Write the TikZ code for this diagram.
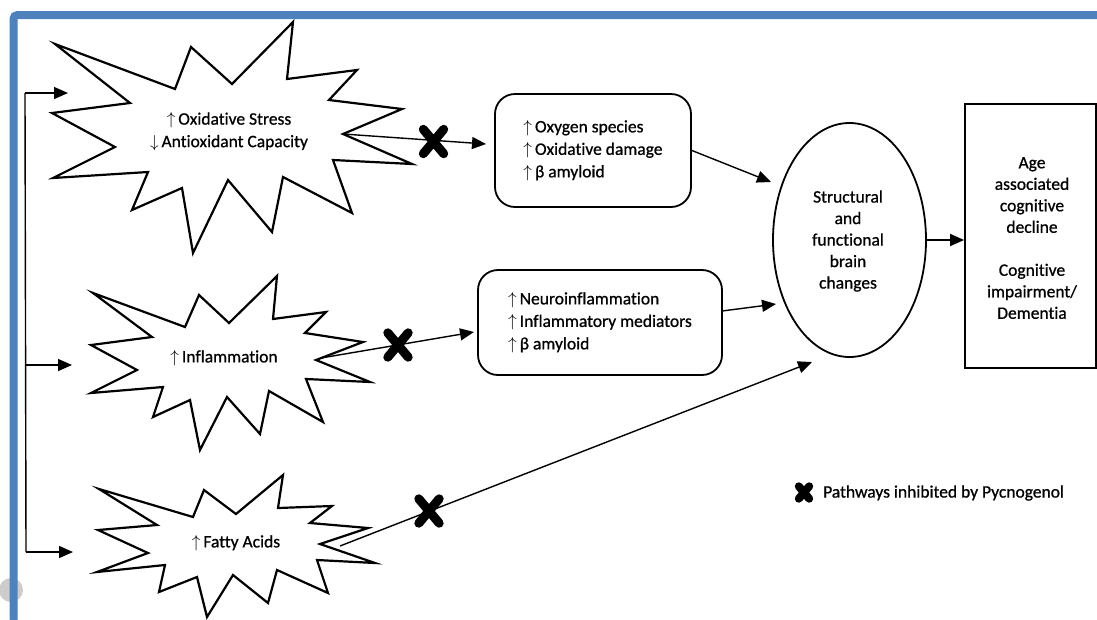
\documentclass[tikz,border=0pt]{standalone}
\usepackage{fontspec}
\setmainfont{Carlito}[Ligatures=NoCommon, RawFeature={embolden=0.8}]
\usetikzlibrary{arrows.meta,shapes.geometric}
\definecolor{frameblue}{HTML}{4F81BD}
\begin{document}
\begin{tikzpicture}[x=1pt,y=-1pt,
  burst/.style={draw, line width=2.2pt, line join=miter, fill=white},
  box/.style={draw, line width=1.8pt, rounded corners=20pt, align=left, inner sep=0pt, font=\fontsize{17.5}{22.5}\selectfont},
  conn/.style={line width=1.4pt, -{Triangle[length=14pt,width=12pt]}},
  plain/.style={line width=1.4pt},
  txt/.style={font=\fontsize{17.5}{22.5}\selectfont, align=center, inner sep=0pt},
  etxt/.style={font=\fontsize{17.5}{21.5}\selectfont, align=center, inner sep=0pt},
  xnode/.style={minimum width=20pt, minimum height=24pt, inner sep=0pt},
  xsmall/.style={minimum width=10pt, minimum height=12pt, inner sep=0pt},
  xstroke/.style={line width=9pt, line cap=round},
  xstrokesmall/.style={line width=8pt, line cap=round}]
\useasboundingbox (0,0) rectangle (1097,619);
\fill[white] (0,0) rectangle (1097,619);
% frame
\fill[gray!40] (11,590) circle (12);
\draw[frameblue, line width=8pt, rounded corners=4pt] (13.5,630) -- (13.5,15) -- (1105,15);
% bursts
\draw[burst] (55,44) -- (175,89) -- (191,47) -- (232,84) -- (293,22) -- (287,79) -- (357,70) -- (329,100) -- (402,109) -- (343,134) -- (412,164) -- (333,160) -- (352,213) -- (283,177) -- (272,232) -- (228,180) -- (193,253) -- (182,188) -- (132,210) -- (148,172) -- (53,178) -- (115,147) -- (52,113) -- (130,103) -- cycle;
\draw[burst] (93,293) -- (185,327) -- (199,295) -- (229,323) -- (277,276) -- (273,319) -- (326,312) -- (305,333) -- (363,342) -- (316,360) -- (370,382) -- (306,379) -- (323,422) -- (269,391) -- (260,434) -- (227,397) -- (200,450) -- (190,400) -- (153,417) -- (163,387) -- (91,393) -- (137,370) -- (91,345) -- (152,337) -- cycle;
\draw[burst] (99,489) -- (193,517) -- (204,490) -- (236,514) -- (283,475) -- (278,508) -- (332,506) -- (310,523) -- (368,528) -- (320,544) -- (375,563) -- (317,560) -- (328,593) -- (277,570) -- (268,603) -- (233,575) -- (207,617) -- (197,577) -- (159,592) -- (165,565) -- (97,572) -- (148,553) -- (98,530) -- (157,525) -- cycle;
\node[txt] (b1) at (229,131.5) {$\uparrow$\,Oxidative Stress\\$\downarrow$\,Antioxidant Capacity};
\node[txt] (b2) at (224,358) {$\uparrow$\,Inflammation};
\node[txt] (b3) at (236,543) {$\uparrow$\,Fatty Acids};
% boxes
\node[box, minimum width=196pt, minimum height=113pt] (box1) at (593,150.5) {$\uparrow$\,Oxygen species\\$\uparrow$\,Oxidative damage\\$\uparrow$\,β amyloid};
\node[box, minimum width=244pt, minimum height=105pt] (box2) at (600,322.5) {$\uparrow$\,Neuroinflammation\\$\uparrow$\,Inflammatory mediators\\$\uparrow$\,β amyloid};
\node[draw, ellipse, line width=1.8pt, minimum width=153pt, minimum height=234pt, inner sep=0pt] (ell) at (849.5,240) {};
\node[etxt] (elltext) at (848,241) {Structural\\and\\functional\\brain\\changes};
\node[draw, line width=1.8pt, minimum width=131pt, minimum height=264pt, inner sep=0pt] (rect) at (1030.5,236) {};
\node[etxt] (recttext) at (1032,238) {Age\\associated\\cognitive\\decline\\[21.5pt]Cognitive\\impairment/\\Dementia};
% left tree
\coordinate (tTop) at (25,93);
\coordinate (tMid) at (25.5,365);
\coordinate (tBot) at (26,552);
\coordinate (a1) at (68,93);
\coordinate (a2) at (72,365);
\coordinate (a3) at (73,552);
\draw[plain] (tTop) -- (tBot);
\draw[conn] (tTop) -- (a1);
\draw[conn] (tMid) -- (a2);
\draw[conn] (tBot) -- (a3);
% connectors
\coordinate (b1out) at (343,134);
\coordinate (b2out) at (321,358);
\coordinate (b3out) at (340,546);
\coordinate (t1) at (486,144);
\coordinate (t2) at (474,332);
\coordinate (t3) at (812,362);
\coordinate (t4) at (771,182);
\coordinate (t5) at (776,304);
\coordinate (box2out) at (722,311);
\draw[conn] (b1out) -- (t1);
\draw[conn] (b2out) -- (t2);
\draw[conn] (b3out) -- (t3);
\draw[conn] (box1.east) -- (t4);
\draw[conn] (box2out) -- (t5);
\draw[conn] (ell.east) -- (ell.east -| rect.west);
% X marks
\node[xnode] (x1) at (433.5,141.5) {};
\node[xnode] (x2) at (398,345) {};
\node[xnode] (x3) at (429,511) {};
\foreach \n in {x1,x2,x3}
  \draw[xstroke] (\n.south west) -- (\n.north east) (\n.north west) -- (\n.south east);
\node[xsmall] (x4) at (804,492.5) {};
\draw[xstrokesmall] (x4.south west) -- (x4.north east) (x4.north west) -- (x4.south east);
\node[txt, anchor=west] (legend) at (823,493) {Pathways inhibited by Pycnogenol};
\end{tikzpicture}
\end{document}
